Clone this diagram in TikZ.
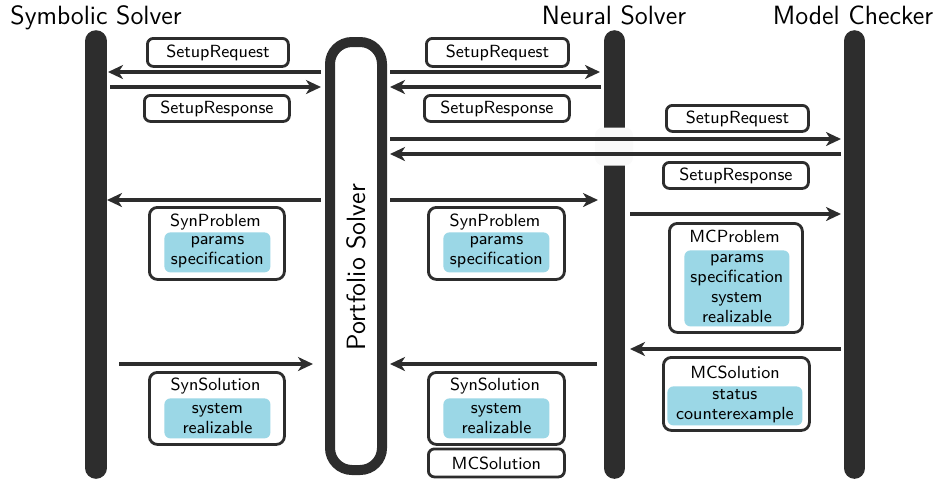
\documentclass[tikz,border=0pt]{standalone}
\usetikzlibrary{arrows.meta}
\definecolor{ink}{RGB}{45,45,45}
\definecolor{fieldblue}{RGB}{155,215,230}
\begin{document}
\begin{tikzpicture}[x=0.5pt,y=-0.5pt,font=\sffamily,
  title/.style={font=\fontsize{13.2}{15}\sffamily\selectfont,text=black,inner sep=0pt},
  lifeline/.style={draw=ink,line width=10.8pt,line cap=round},
  msg/.style={draw=ink,line width=2.4pt,-{Stealth[length=7.5pt,width=7pt,inset=2.2pt]}},
  lbl/.style={font=\fontsize{8.8}{10}\sffamily\selectfont,text=black,draw=ink,line width=1.4pt,rounded corners=3pt,fill=white,inner sep=0pt,anchor=north west},
  outer/.style={draw=ink,line width=1.4pt,rounded corners=4pt,fill=white,inner sep=0pt,anchor=north west},
  field/.style={fill=fieldblue,rounded corners=3pt,inner sep=0pt,anchor=north west,font=\fontsize{8.8}{10}\sffamily\selectfont,text=black,align=center},
  ftitle/.style={font=\fontsize{8.8}{10}\sffamily\selectfont,text=black,inner sep=0pt,anchor=base}
]
\useasboundingbox (0,0) rectangle (937,479);
% titles
\node[title,anchor=base west] (tsym) at (10,24) {Symbolic Solver};
\node[title,anchor=base] (tneu) at (614,24) {Neural Solver};
\node[title,anchor=base] (tmc) at (853,24) {Model Checker};
% lifelines
\coordinate (symtop) at (96,41); \coordinate (symbot) at (96,468);
\coordinate (neutop) at (614.5,41); \coordinate (neubot) at (614.5,468);
\coordinate (mctop) at (854.5,41); \coordinate (mcbot) at (854.5,468);
\draw[lifeline] (symtop) -- (symbot);
\draw[lifeline] (neutop) -- (neubot);
\draw[lifeline] (mctop) -- (mcbot);
% gap in neural lifeline
\node[fill=black!2,rounded corners=4pt,minimum width=19pt,minimum height=19pt,inner sep=0pt] (gap) at (614,146.5) {};
% portfolio
\node[draw=ink,line width=5pt,rounded corners=11pt,minimum width=26pt,minimum height=214pt,inner sep=0pt] (port) at (356,256) {};
\node[title,rotate=90] (tport) at (356,267) {Portfolio Solver};
% coordinates for arrow ends
\coordinate (s1) at (108,72); \coordinate (p1l) at (321,72);
\coordinate (s2) at (110,87); \coordinate (p2l) at (321,87);
\coordinate (p1r) at (390,72); \coordinate (n1) at (600,72);
\coordinate (p2r) at (390,87); \coordinate (n2) at (601,87);
\coordinate (p3r) at (390,139); \coordinate (m3) at (841,139);
\coordinate (p4r) at (390,154); \coordinate (m4) at (841,154);
\coordinate (s5) at (107,200); \coordinate (p5l) at (321,200);
\coordinate (p5r) at (390,200); \coordinate (n5) at (598,200);
\coordinate (n6) at (630,214); \coordinate (m6) at (841,214);
\coordinate (s7) at (119,364); \coordinate (p7l) at (313,364);
\coordinate (p7r) at (390,364); \coordinate (n7) at (597,364);
\coordinate (n8) at (630,349); \coordinate (m8) at (841,349);
\draw[msg] (p1l) -- (s1);
\draw[msg] (s2) -- (p2l);
\draw[msg] (p1r) -- (n1);
\draw[msg] (n2) -- (p2r);
\draw[msg] (p3r) -- (m3);
\draw[msg] (m4) -- (p4r);
\draw[msg] (p5l) -- (s5);
\draw[msg] (p5r) -- (n5);
\draw[msg] (n6) -- (m6);
\draw[msg] (s7) -- (p7l);
\draw[msg] (n7) -- (p7r);
\draw[msg] (m8) -- (n8);
% simple labels
\node[lbl,minimum width=70.5pt,minimum height=14pt] (req1) at (146,37) {SetupRequest};
\node[lbl,minimum width=72.5pt,minimum height=13pt] (res1) at (143,94) {SetupResponse};
\node[lbl,minimum width=71pt,minimum height=14pt] (req2) at (425,37) {SetupRequest};
\node[lbl,minimum width=72.5pt,minimum height=13pt] (res2) at (423,94) {SetupResponse};
\node[lbl,minimum width=71pt,minimum height=13pt] (req3) at (665,104) {SetupRequest};
\node[lbl,minimum width=72.5pt,minimum height=13pt] (res3) at (662,161) {SetupResponse};
\node[lbl,minimum width=68pt,minimum height=14pt] (mcsol2) at (427,447.5) {MCSolution};
% SynProblem left
\node[outer,minimum width=67.5pt,minimum height=36pt] (sp1) at (148,206) {};
\node[ftitle] (sp1t) at (215.5,226) {SynProblem};
\node[field,minimum width=53pt,minimum height=20pt] (sp1f) at (164,232) {params\\specification};
% SynProblem mid
\node[outer,minimum width=68pt,minimum height=36pt] (sp2) at (427,206) {};
\node[ftitle] (sp2t) at (495,226) {SynProblem};
\node[field,minimum width=53pt,minimum height=20pt] (sp2f) at (443,232) {params\\specification};
% MCProblem
\node[outer,minimum width=66.5pt,minimum height=54.5pt] (mcp) at (668,222) {};
\node[ftitle] (mcpt) at (734.5,242) {MCProblem};
\node[field,minimum width=52.5pt,minimum height=38pt] (mcpf) at (684,250) {params\\specification\\system\\realizable};
% SynSolution left
\node[outer,minimum width=67.5pt,minimum height=36pt] (ss1) at (148,371) {};
\node[ftitle] (ss1t) at (215.5,390) {SynSolution};
\node[field,minimum width=53pt,minimum height=20pt] (ss1f) at (164,398) {system\\realizable};
% SynSolution mid
\node[outer,minimum width=68pt,minimum height=36pt] (ss2) at (427,371) {};
\node[ftitle] (ss2t) at (495,390) {SynSolution};
\node[field,minimum width=53pt,minimum height=20pt] (ss2f) at (443,398) {system\\realizable};
% MCSolution right
\node[outer,minimum width=73pt,minimum height=36.5pt] (mcs) at (662,356) {};
\node[ftitle] (mcst) at (735,378) {MCSolution};
\node[field,minimum width=67.5pt,minimum height=19.5pt] (mcsf) at (667,386) {status\\counterexample};
\end{tikzpicture}
\end{document}
